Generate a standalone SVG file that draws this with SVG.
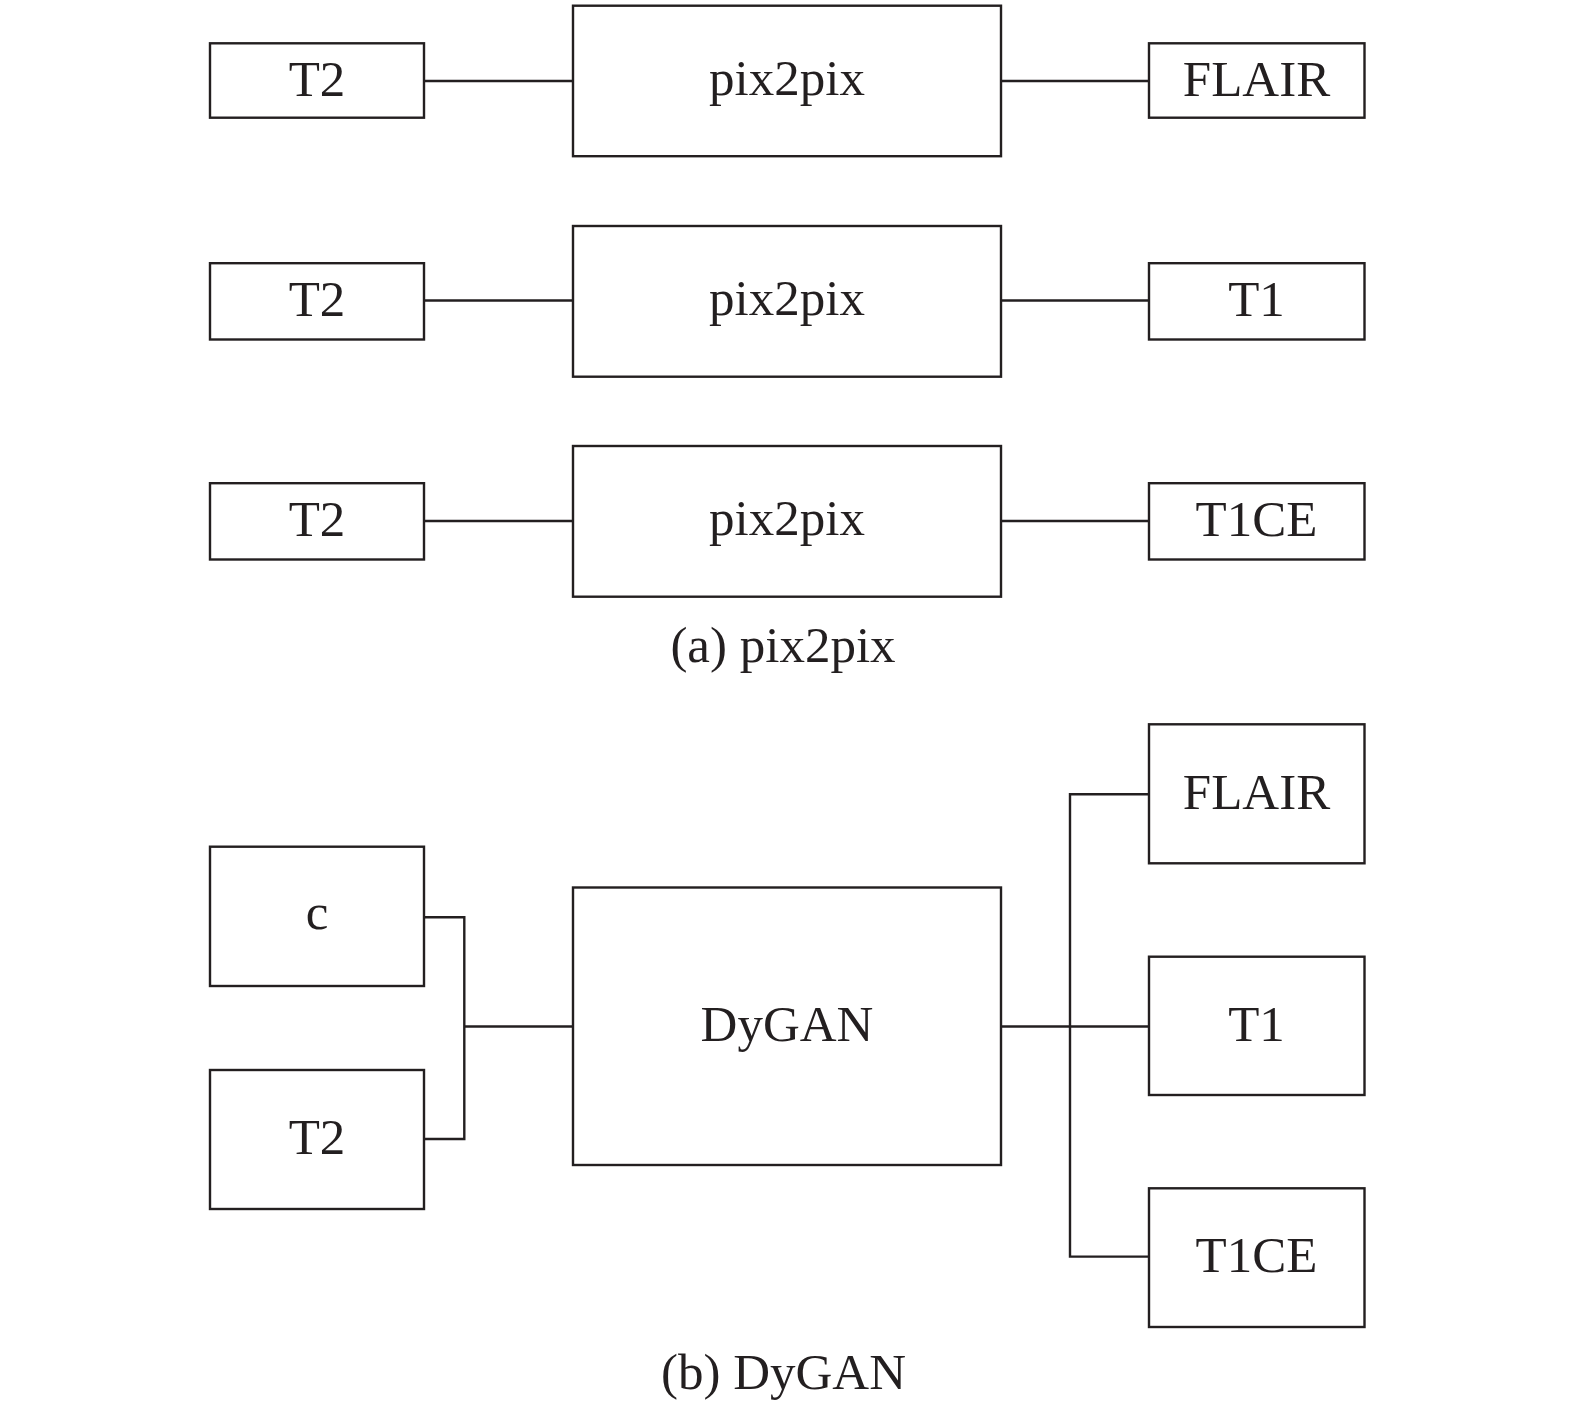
<svg xmlns="http://www.w3.org/2000/svg" width="1575" height="1409" viewBox="0 0 1575 1409">
<style>
.box{fill:#fff;stroke:#231f20;stroke-width:2.4}
.ln{fill:none;stroke:#231f20;stroke-width:2.4}
text{font-family:"Liberation Serif","Times New Roman",serif;font-size:51px;fill:#231f20;text-anchor:middle}
</style>
<rect width="1575" height="1409" fill="#fff"/>
<g id="connectors">
<line class="ln" x1="424" y1="81" x2="573" y2="81"/>
<line class="ln" x1="1001" y1="81" x2="1149" y2="81"/>
<line class="ln" x1="424" y1="300.5" x2="573" y2="300.5"/>
<line class="ln" x1="1001" y1="300.5" x2="1149" y2="300.5"/>
<line class="ln" x1="424" y1="521" x2="573" y2="521"/>
<line class="ln" x1="1001" y1="521" x2="1149" y2="521"/>
<polyline class="ln" points="424,917.3 464.3,917.3 464.3,1139 424,1139"/>
<line class="ln" x1="464.3" y1="1026.5" x2="573" y2="1026.5"/>
<line class="ln" x1="1001" y1="1026.5" x2="1149" y2="1026.5"/>
<polyline class="ln" points="1149,794.3 1070,794.3 1070,1256.6 1149,1256.6"/>
</g>
<g id="a-t2-1"><rect class="box" x="210" y="43.3" width="214" height="74.4"/><text x="317" y="96">T2</text></g>
<g id="a-pix-1"><rect class="box" x="573" y="5.7" width="428" height="150.5"/><text x="787" y="95">pix2pix</text></g>
<g id="a-flair"><rect class="box" x="1149" y="43.3" width="215.5" height="74.4"/><text x="1256.5" y="96">FLAIR</text></g>
<g id="a-t2-2"><rect class="box" x="210" y="263.2" width="214" height="76.3"/><text x="317" y="315.5">T2</text></g>
<g id="a-pix-2"><rect class="box" x="573" y="226" width="428" height="150.7"/><text x="787" y="314.5">pix2pix</text></g>
<g id="a-t1"><rect class="box" x="1149" y="263.2" width="215.5" height="76.3"/><text x="1256.5" y="315.5">T1</text></g>
<g id="a-t2-3"><rect class="box" x="210" y="483.2" width="214" height="76.3"/><text x="317" y="536">T2</text></g>
<g id="a-pix-3"><rect class="box" x="573" y="446" width="428" height="150.7"/><text x="787" y="535">pix2pix</text></g>
<g id="a-t1ce"><rect class="box" x="1149" y="483.2" width="215.5" height="76.3"/><text x="1256.5" y="536">T1CE</text></g>
<text id="caption-a" x="783" y="661.5">(a) pix2pix</text>
<g id="b-c"><rect class="box" x="210" y="846.7" width="214" height="139.3"/><text x="317" y="929">c</text></g>
<g id="b-t2"><rect class="box" x="210" y="1070" width="214" height="139"/><text x="317" y="1154">T2</text></g>
<g id="b-dygan"><rect class="box" x="573" y="887.5" width="428" height="277.5"/><text x="787" y="1041">DyGAN</text></g>
<g id="b-flair"><rect class="box" x="1149" y="724.3" width="215.5" height="139"/><text x="1256.5" y="809">FLAIR</text></g>
<g id="b-t1"><rect class="box" x="1149" y="956.7" width="215.5" height="138.3"/><text x="1256.5" y="1041">T1</text></g>
<g id="b-t1ce"><rect class="box" x="1149" y="1188.3" width="215.5" height="138.7"/><text x="1256.5" y="1271.5">T1CE</text></g>
<text id="caption-b" x="783.5" y="1388.5">(b) DyGAN</text>
</svg>
